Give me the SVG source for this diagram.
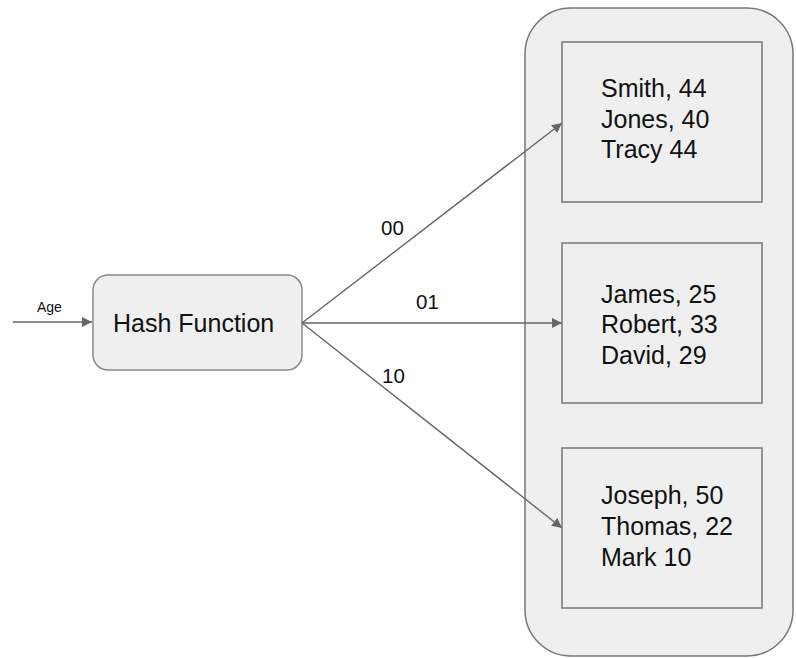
<svg xmlns="http://www.w3.org/2000/svg" width="796" height="658" viewBox="0 0 796 658">
  <style>
    .bucket { fill: #efefef; stroke: #777777; stroke-width: 1.5; }
    .hash { fill: #efefef; stroke: #8a8a8a; stroke-width: 1.5; }
    .rows { font-family: "Liberation Sans", Arial, sans-serif; font-size: 25px; fill: #111111; }
    .edge { stroke: #666666; stroke-width: 1.4; fill: none; }
    .elabel { font-family: "Liberation Sans", Arial, sans-serif; font-size: 20.5px; fill: #111111; }
  </style>
  <defs>
    <marker id="arrow" viewBox="0 0 10 10" refX="10" refY="5" markerWidth="10" markerHeight="10" markerUnits="userSpaceOnUse" orient="auto">
      <path d="M0,0 L10,5 L0,10 z" fill="#666666"/>
    </marker>
  </defs>
  <rect width="796" height="658" fill="#ffffff"/>

  <!-- table of buckets -->
  <g id="table">
    <rect x="525" y="8" width="268" height="648" rx="46" ry="46" class="bucket"/>
  </g>

  <g id="hash-function">
    <rect x="93" y="275" width="209" height="95" rx="15" ry="15" class="hash"/>
    <text x="113" y="332" class="rows">Hash Function</text>
  </g>

  <g id="bucket-00">
    <rect x="562" y="42" width="200" height="160" class="bucket"/>
    <text class="rows">
      <tspan x="601" y="97">Smith, 44</tspan>
      <tspan x="601" y="128">Jones, 40</tspan>
      <tspan x="601" y="158">Tracy 44</tspan>
    </text>
  </g>

  <g id="bucket-01">
    <rect x="562" y="243" width="200" height="160" class="bucket"/>
    <text class="rows">
      <tspan x="601" y="303">James, 25</tspan>
      <tspan x="601" y="333">Robert, 33</tspan>
      <tspan x="601" y="364">David, 29</tspan>
    </text>
  </g>

  <g id="bucket-10">
    <rect x="562" y="448" width="200" height="160" class="bucket"/>
    <text class="rows">
      <tspan x="601" y="504">Joseph, 50</tspan>
      <tspan x="601" y="535">Thomas, 22</tspan>
      <tspan x="601" y="566">Mark 10</tspan>
    </text>
  </g>

  <!-- connectors -->
  <g id="connectors">
    <line x1="13" y1="322" x2="92" y2="322" class="edge" marker-end="url(#arrow)"/>
    <text x="37" y="312" font-family="Liberation Sans, Arial, sans-serif" font-size="14" fill="#111111">Age</text>

    <line x1="302" y1="323" x2="562" y2="123" class="edge" marker-end="url(#arrow)"/>
    <line x1="302" y1="323" x2="562" y2="323" class="edge" marker-end="url(#arrow)"/>
    <line x1="302" y1="323" x2="562" y2="528" class="edge" marker-end="url(#arrow)"/>

    <text x="381" y="235" class="elabel">00</text>
    <text x="416" y="309" class="elabel">01</text>
    <text x="382" y="383" class="elabel">10</text>
  </g>
</svg>
